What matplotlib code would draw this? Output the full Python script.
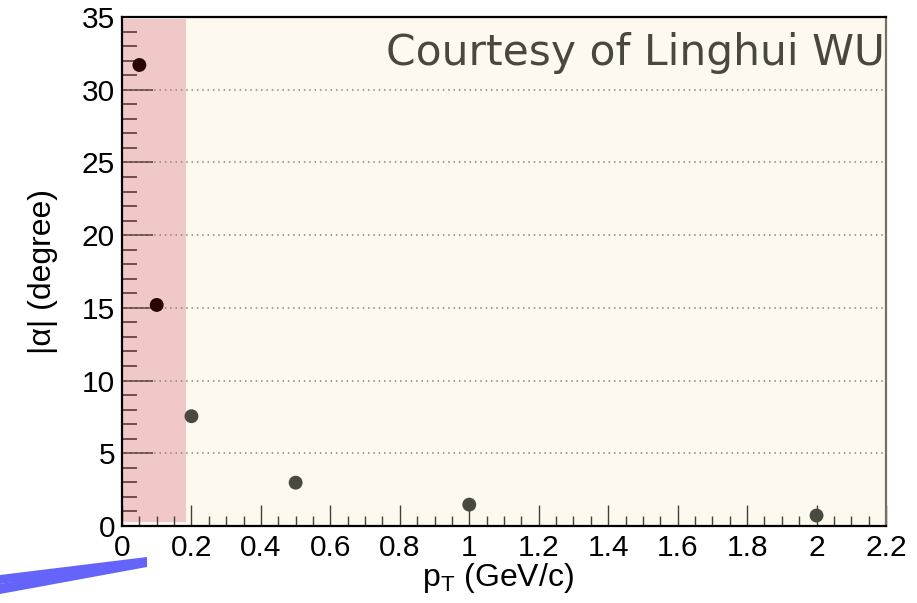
import matplotlib
matplotlib.use("Agg")
import matplotlib.pyplot as plt
from matplotlib.patches import Rectangle, Polygon
from matplotlib.ticker import MultipleLocator

plt.rcParams["mathtext.fontset"] = "custom"
plt.rcParams["mathtext.rm"] = "Liberation Sans"
plt.rcParams["mathtext.it"] = "Liberation Sans:italic"

pt = [0.05, 0.1, 0.2, 0.5, 1.0, 2.0]
alpha_deg = [31.7, 15.2, 7.55, 2.98, 1.47, 0.72]
xticks = [0, 0.2, 0.4, 0.6, 0.8, 1.0, 1.2, 1.4, 1.6, 1.8, 2.0, 2.2]
xticklabels = ["0", "0.2", "0.4", "0.6", "0.8", "1", "1.2", "1.4", "1.6", "1.8", "2", "2.2"]
yticks = [0, 5, 10, 15, 20, 25, 30, 35]
red_zone = (0.0, 0.185)  # pT range shaded

W, H = 917, 603
fig = plt.figure(figsize=(W/100, H/100), dpi=100)
ax = fig.add_axes([122/W, 1-526/H, (886-122)/W, (526-17)/H])
ax.set_xlim(0, 2.2)
ax.set_ylim(0, 35)
ax.set_facecolor("#fdf9ee")

# shaded region
ax.add_patch(Rectangle((red_zone[0], 0.3), red_zone[1]-red_zone[0], 34.55,
                       facecolor="#f0c8c8", edgecolor="none", zorder=1))

# grid
for y in yticks[1:-1]:
    ax.axhline(y, color="#8a8478", lw=1.1, linestyle=(0, (1, 2.5)), zorder=2)

# points
cols = ["#2a0505" if x < red_zone[1] else "#4a4940" for x in pt]
ax.scatter(pt, alpha_deg, s=100, c=cols, zorder=4, edgecolors="none")

ax.set_xticks(xticks)
ax.set_xticklabels(xticklabels)
ax.xaxis.set_minor_locator(MultipleLocator(0.05))
ax.set_yticks(yticks)
ax.yaxis.set_minor_locator(MultipleLocator(1))
ax.tick_params(axis="both", which="both", direction="in", top=False, right=False,
               labelsize=21.5)
ax.tick_params(axis="x", which="major", length=15, width=1.0, pad=6, color="#444038")
ax.tick_params(axis="x", which="minor", length=7, width=1.0, color="#444038")
ax.tick_params(axis="y", which="major", length=22, width=1.2, pad=5, color="#5a3a3a")
ax.tick_params(axis="y", which="minor", length=11, width=1.2, color="#5a3a3a")
for lab in ax.get_xticklabels() + ax.get_yticklabels():
    lab.set_fontfamily("Liberation Sans")
    lab.set_color("black")

for s in ["left", "bottom", "top"]:
    ax.spines[s].set_color("black")
    ax.spines[s].set_linewidth(1.6)
ax.spines["right"].set_color("#777060")
ax.spines["right"].set_linewidth(1.6)

ax.set_xlabel(r"p$_{\mathregular{T}}$ (GeV/c)", fontsize=23, fontfamily="Liberation Sans")
ax.xaxis.set_label_coords((498-122)/(886-122), -(561-526)/(526-17))
ax.set_ylabel("|α| (degree)", fontsize=23, fontfamily="Liberation Sans")
ax.yaxis.set_label_coords(-(122-58)/(886-122), (526-272)/(526-17))

ax.text(0.998, 0.93, "Courtesy of Linghui WU", transform=ax.transAxes, ha="right", va="center",
        fontsize=30.5, fontfamily="DejaVu Sans", color="#4a473d", zorder=5)

# blue strokes (annotation), in figure pixel coordinates
def fp(x, y):
    return (x/W, 1-y/H)
poly1 = Polygon([fp(0, 575), fp(147, 557), fp(147, 565), fp(0, 584)], closed=True,
                transform=fig.transFigure, facecolor="#6464fa", edgecolor="none")
poly2 = Polygon([fp(0, 584), fp(147, 559), fp(147, 567), fp(0, 594)], closed=True,
                transform=fig.transFigure, facecolor="#6464fa", edgecolor="none")
fig.patches.extend([poly1, poly2])

fig.savefig("out.png", dpi=100)
